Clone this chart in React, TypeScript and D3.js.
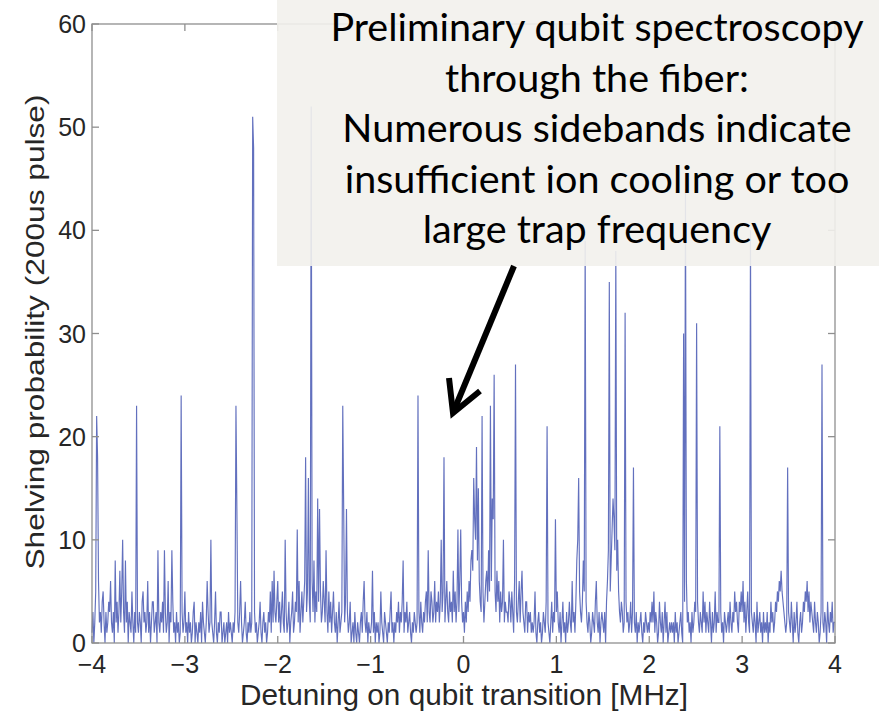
import React from "react";
import * as d3 from "d3";

// Detuning grid: -4 .. 4 MHz, step 0.01 MHz (801 points)
const detuningStart = -4;
const detuningStep = 0.01;

// Shelving probability readings, 25 points (0.25 MHz) per row
const shelving: number[] = [
  1,3,0,2,5,22,18,6,2,3,1,4,5,2,0,3,1,2,4,3,6,2,1,3,0,
  8,2,4,1,3,7,2,5,10,3,1,8,2,4,0,3,2,1,5,2,0,3,1,23,2,
  1,3,2,0,4,5,2,3,1,2,6,1,3,0,2,4,4,1,2,3,0,9,2,1,3,
  2,4,1,9,3,1,2,6,0,3,2,9,4,1,2,0,3,1,2,0,1,24,3,1,2,
  5,1,2,0,3,1,2,0,1,3,4,0,2,1,0,2,1,3,0,4,2,1,0,2,6,
  3,1,2,10,2,1,0,2,5,1,0,2,1,3,3,0,1,2,0,1,2,0,3,1,2,
  1,0,2,1,3,23,13,2,1,3,6,2,0,1,2,4,1,0,2,1,3,1,2,51,48,
  3,1,2,0,1,2,4,1,0,2,3,1,2,0,1,3,2,5,1,6,2,7,3,2,4,
  6,2,4,1,3,5,2,1,10,3,1,2,4,0,2,3,5,1,2,4,3,11,2,6,1,
  3,5,2,4,6,18,3,5,16,4,2,52,6,3,8,2,5,3,14,4,13,5,2,3,6,
  4,2,9,3,1,5,2,4,1,3,5,2,1,3,0,2,4,1,2,3,23,13,2,4,13,
  3,1,2,4,0,1,2,0,3,1,0,2,1,0,2,3,1,4,6,2,1,3,0,2,1,
  1,2,7,1,3,0,2,1,2,0,1,5,2,1,0,3,2,1,0,2,1,3,5,1,2,
  0,2,1,3,2,4,1,3,2,4,8,1,3,2,4,1,2,3,1,0,2,1,3,2,1,
  2,24,3,1,4,2,1,3,2,4,5,2,9,3,2,5,4,2,3,6,2,4,3,5,2,
  4,10,3,5,18,2,4,6,3,2,5,3,4,2,7,3,5,2,4,11,3,6,11,4,2,
  3,1,4,2,5,3,6,4,8,9,7,16,12,10,19,8,15,6,4,3,22,5,2,4,6,
  7,4,9,5,23,6,14,12,26,5,3,7,4,6,2,5,3,4,10,2,4,3,3,2,5,
  4,2,5,3,1,6,27,3,2,4,6,2,5,7,3,2,1,4,4,1,3,2,3,1,2,
  1,2,5,1,0,2,3,1,2,0,1,3,2,1,4,21,2,1,0,2,4,1,3,2,12,
  3,5,2,1,3,0,2,4,1,2,0,3,1,2,4,2,1,6,2,3,1,4,8,10,16,
  5,3,2,4,8,5,39,4,2,1,3,2,0,1,3,2,1,4,6,2,1,3,0,2,3,
  2,1,3,0,4,6,9,35,5,8,11,14,12,9,38,7,10,5,3,2,4,3,1,2,32,
  4,2,3,1,2,4,1,3,17,2,1,3,0,2,1,2,3,1,0,2,1,3,2,1,2,
  1,3,2,4,2,5,1,3,2,0,1,4,2,1,3,0,2,4,1,3,0,1,2,1,2,
  1,2,0,3,1,2,0,1,2,3,1,0,30,4,44,6,2,3,1,2,0,3,1,2,4,
  3,31,4,2,1,3,2,1,5,2,4,1,3,2,1,4,2,0,3,1,2,5,1,3,2,
  2,21,3,1,2,0,3,2,1,2,3,1,4,2,1,3,2,5,3,4,2,1,4,3,5,
  3,6,2,4,1,3,5,2,1,40,3,2,1,3,2,0,4,1,2,3,1,2,0,3,1,
  2,1,3,0,2,1,4,2,3,1,2,4,3,5,4,6,5,7,5,4,3,2,1,2,17,
  3,2,1,4,2,0,3,1,2,4,1,0,2,3,1,2,4,3,5,4,6,3,5,2,4,
  3,2,1,4,2,1,3,2,0,1,3,27,2,1,3,2,0,4,2,1,3,2,4,1,2,
  2,
];

const xTicks = [-4, -3, -2, -1, 0, 1, 2, 3, 4];
const yTicks = [0, 10, 20, 30, 40, 50, 60];
const xLabel = "Detuning on qubit transition [MHz]";
const yLabel = "Shelving probability (200us pulse)";
const noteLines = [
  "Preliminary qubit spectroscopy",
  "through the fiber:",
  "Numerous sidebands indicate",
  "insufficient ion cooling or too",
  "large trap frequency",
];

const W = 879;
const H = 711;
const M = { left: 92, right: 835, top: 24, bottom: 643 };

export default function App() {
  const x = d3.scaleLinear().domain([-4, 4]).range([M.left, M.right]);
  const y = d3.scaleLinear().domain([0, 60]).range([M.bottom, M.top]);
  const pts: [number, number][] = shelving.map((v, i) => [detuningStart + i * detuningStep, v]);
  const line = d3
    .line<[number, number]>()
    .x((d) => x(d[0]))
    .y((d) => y(d[1]));
  const fmt = (v: number) => (v < 0 ? "\u2212" + Math.abs(v) : String(v));
  const axisColor = "#8f8f8f";
  const tickLen = 7;
  const textColor = "#262626";
  const font = "'Liberation Sans', Arial, sans-serif";

  return (
    <svg
      width={W}
      height={H}
      style={{ position: "absolute", left: 0, top: 0, background: "#fff" }}
    >
      <rect x={0} y={0} width={W} height={H} fill="#fff" />
      <g>
        <path d={line(pts) || ""} fill="none" stroke="#4050b0" strokeWidth={1.15} strokeOpacity={0.82} />
      </g>
      <rect
        x={M.left}
        y={M.top}
        width={M.right - M.left}
        height={M.bottom - M.top}
        fill="none"
        stroke={axisColor}
        strokeWidth={1.3}
      />
      {xTicks.map((t) => (
        <g key={"xt" + t}>
          <line x1={x(t)} x2={x(t)} y1={M.bottom} y2={M.bottom - tickLen} stroke={axisColor} strokeWidth={1.3} />
          <line x1={x(t)} x2={x(t)} y1={M.top} y2={M.top + tickLen} stroke={axisColor} strokeWidth={1.3} />
          <text
            x={x(t)}
            y={M.bottom + 30}
            textAnchor="middle"
            fontFamily={font}
            fontSize={25}
            fill={textColor}
          >
            {fmt(t)}
          </text>
        </g>
      ))}
      {yTicks.map((t) => (
        <g key={"yt" + t}>
          <line x1={M.left} x2={M.left + tickLen} y1={y(t)} y2={y(t)} stroke={axisColor} strokeWidth={1.3} />
          <line x1={M.right} x2={M.right - tickLen} y1={y(t)} y2={y(t)} stroke={axisColor} strokeWidth={1.3} />
          <text
            x={M.left - 6}
            y={y(t) + 9}
            textAnchor="end"
            fontFamily={font}
            fontSize={25}
            fill={textColor}
          >
            {t}
          </text>
        </g>
      ))}
      <text
        x={464}
        y={705}
        textAnchor="middle"
        fontFamily={font}
        fontSize={29}
        textLength={448}
        lengthAdjust="spacingAndGlyphs"
        fill={textColor}
      >
        {xLabel}
      </text>
      <text
        transform={`translate(44, ${332}) rotate(-90)`}
        textAnchor="middle"
        fontFamily={font}
        fontSize={26.5}
        textLength={475}
        lengthAdjust="spacingAndGlyphs"
        fill={textColor}
      >
        {yLabel}
      </text>
      <rect x={277} y={0} width={W - 277} height={266} fill="#f2f1ec" fillOpacity={0.9} />
      {noteLines.map((s, i) => (
        <text
          key={"n" + i}
          x={597}
          y={41 + i * 50.5}
          textAnchor="middle"
          fontFamily="Lato, 'Open Sans', sans-serif"
          fontSize={39.5}
          fill="#000"
        >
          {s}
        </text>
      ))}
      <line x1={514} y1={266} x2={455} y2={408} stroke="#000" strokeWidth={6} />
      <polyline
        points="449,378 453,413 480,391"
        fill="none"
        stroke="#000"
        strokeWidth={6}
        strokeLinejoin="miter"
        strokeLinecap="butt"
      />
    </svg>
  );
}
